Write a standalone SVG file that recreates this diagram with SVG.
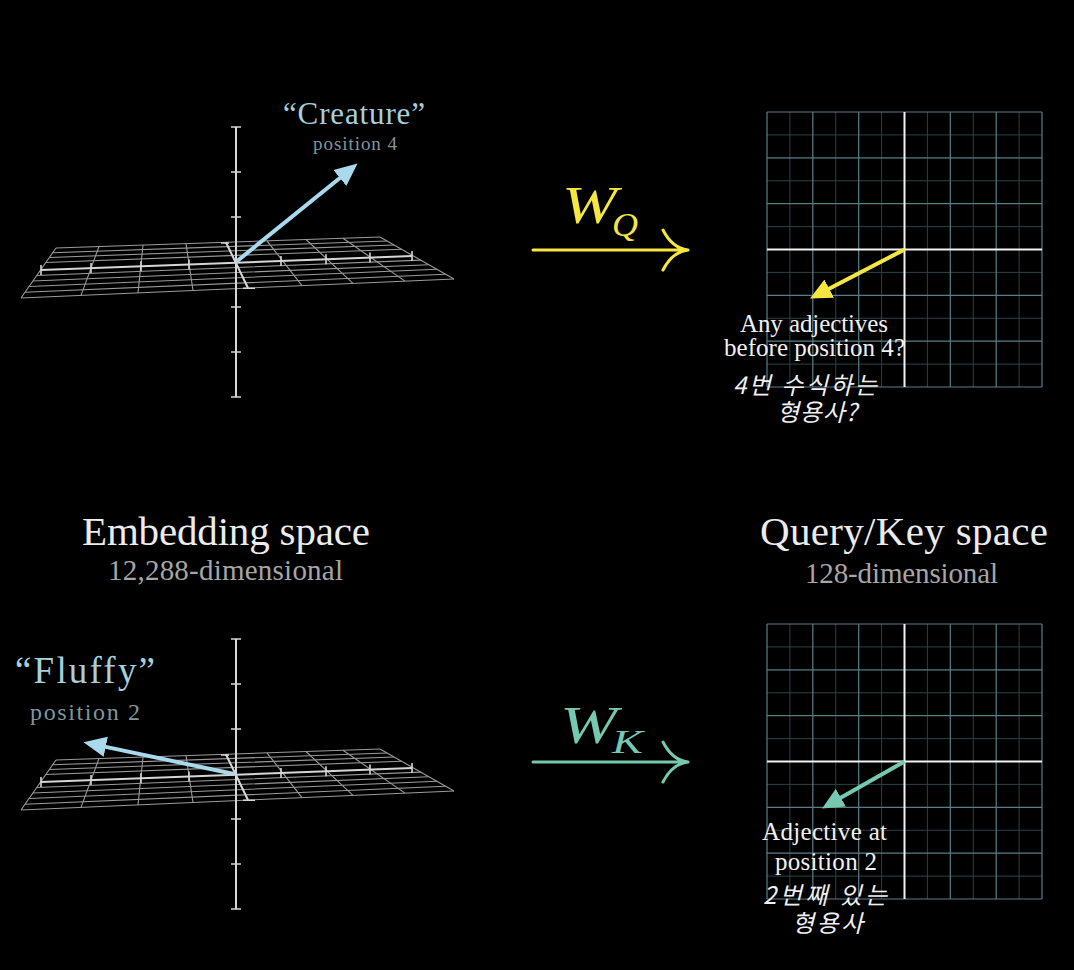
<svg xmlns="http://www.w3.org/2000/svg" xmlns:xlink="http://www.w3.org/1999/xlink" width="1074" height="970" viewBox="0 0 1074 970">
<style>
.grid3d{stroke:#9a9a9a;stroke-width:1.1;fill:none}
.ax3d{stroke:#d6d6d6;stroke-width:2;fill:none}
.tick{stroke:#d6d6d6;stroke-width:1.6;fill:none}
.minor{stroke:#2a4347;stroke-width:1;fill:none}
.major{stroke:#587f87;stroke-width:1.2;fill:none}
.axis2{stroke:#f2f2f2;stroke-width:2;fill:none}
.serif{font-family:"Liberation Serif","Times New Roman",serif}
.kr{font-family:"Noto Sans CJK KR",sans-serif;font-style:italic;font-weight:400}
.title{fill:#ececec;font-size:41px}
.dim{fill:#a6a6a6;font-size:29px}
.lbl{fill:#f0f0f0;font-size:25px}
.krl{fill:#f0f0f0;font-size:24px}
.word{fill:#a7cfdc}
.pos{fill:#80969c}
.vecb{stroke:#a9d9ec;stroke-width:4;fill:none}
.vecy{stroke:#f5e642;stroke-width:4;fill:none}
.vect{stroke:#76c9b0;stroke-width:4;fill:none}
.mapy{stroke:#f5e642;stroke-width:3;fill:none;stroke-linecap:round}
.mapt{stroke:#76c9b0;stroke-width:3;fill:none;stroke-linecap:round}
</style>
<defs>
<marker id="hb" markerUnits="userSpaceOnUse" markerWidth="24" markerHeight="24" viewBox="0 -10 20 20" refX="1" refY="0" orient="auto"><path d="M0,-8.5 L19,0 L0,8.5 z" fill="#a9d9ec"/></marker>
<marker id="hy" markerUnits="userSpaceOnUse" markerWidth="24" markerHeight="24" viewBox="0 -10 20 20" refX="1" refY="0" orient="auto"><path d="M0,-8.5 L18,0 L0,8.5 z" fill="#f5e642"/></marker>
<marker id="ht" markerUnits="userSpaceOnUse" markerWidth="24" markerHeight="24" viewBox="0 -10 20 20" refX="1" refY="0" orient="auto"><path d="M0,-8.5 L18,0 L0,8.5 z" fill="#76c9b0"/></marker>
<g id="axes3d">
<path class="grid3d" d="M56,248 L21,298 M99,246.5 L81,295.4 M143,245 L138,292.9 M186,243.6 L193,290.5 M226,242.2 L248,288 M267,240.8 L302,285.7 M306,239.5 L353,283.4 M343,238.3 L405,281.1 M380,237 L454,279"/>
<path class="grid3d" d="M56,248 L380,237 M52.7,252.8 L387,241 M49.4,257.5 L394.1,245 M45.9,262.5 L401.5,249.2 M36.8,275.5 L420.7,260.1 M32.9,281 L428.8,264.7 M29.1,286.5 L437,269.3 M25,292.3 L445.5,274.2 M21,298 L454,279"/>
<path class="ax3d" d="M41,270 L412,256"/>
<path class="tick" d="M41,265 V275 M91,263.1 V273.1 M141,261.2 V271.2 M189,259.4 V269.4 M281,255.9 V265.9 M326,254.2 V264.2 M370,252.6 V262.6 M412,251 V261"/>
<path class="ax3d" d="M226,242.5 L248,288"/>
<path class="tick" d="M221,243 H229 M243,288.3 H255"/>
<path class="ax3d" d="M236,127 V397"/>
<path class="tick" d="M231,127 H241 M231,172 H241 M231,217 H241 M231,307 H241 M231,352 H241 M231,397 H241"/>
</g>
<g id="qkgrid">
<path class="minor" d="M789.9,112 V387 M835.75,112 V387 M881.6,112 V387 M927.4,112 V387 M973.25,112 V387 M1019.1,112 V387 M767,134.9 H1042 M767,180.75 H1042 M767,226.6 H1042 M767,272.4 H1042 M767,318.25 H1042 M767,364.1 H1042"/>
<path class="major" d="M767,112 V387 M812.8,112 V387 M858.7,112 V387 M950.3,112 V387 M996.2,112 V387 M1042,112 V387 M767,112 H1042 M767,157.8 H1042 M767,203.7 H1042 M767,295.3 H1042 M767,341.2 H1042 M767,387 H1042"/>
<path class="axis2" d="M904.5,112 V387 M767,249.5 H1042"/>
</g>
</defs>
<rect width="1074" height="970" fill="#000"/>

<g id="embedding-top">
<use xlink:href="#axes3d" href="#axes3d"/>
<text class="serif word" x="283" y="124" font-size="31" textLength="142" lengthAdjust="spacing">“Creature”</text>
<text class="serif pos" x="313" y="150" font-size="19" textLength="84" lengthAdjust="spacing">position 4</text>
</g>

<g id="embedding-bottom">
<use xlink:href="#axes3d" href="#axes3d" transform="translate(0,512)"/>
<text class="serif word" x="15" y="683" font-size="37" textLength="140" lengthAdjust="spacing">“Fluffy”</text>
<text class="serif pos" x="30" y="720" font-size="24" textLength="110" lengthAdjust="spacing">position 2</text>
</g>

<g id="embedding-label">
<text class="serif title" x="82" y="545" textLength="288" lengthAdjust="spacing">Embedding space</text>
<text class="serif dim" x="108" y="580" textLength="235" lengthAdjust="spacing">12,288-dimensional</text>
</g>

<g id="qk-label">
<text class="serif title" x="760" y="545" textLength="288" lengthAdjust="spacing">Query/Key space</text>
<text class="serif dim" x="805" y="583" textLength="193" lengthAdjust="spacing">128-dimensional</text>
</g>

<g id="query-space">
<use xlink:href="#qkgrid" href="#qkgrid"/>
<text class="serif lbl" x="740" y="332" textLength="148" lengthAdjust="spacing">Any adjectives</text>
<text class="serif lbl" x="724" y="356" textLength="181" lengthAdjust="spacing">before position 4?</text>
<text class="kr krl" x="733" y="394" textLength="144" lengthAdjust="spacing">4번 수식하는</text>
<text class="kr krl" x="777" y="421" textLength="80" lengthAdjust="spacing">형용사?</text>
</g>

<g id="key-space">
<use xlink:href="#qkgrid" href="#qkgrid" transform="translate(0,512)"/>
<text class="serif lbl" x="762" y="840" textLength="125" lengthAdjust="spacing">Adjective at</text>
<text class="serif lbl" x="775" y="870" textLength="102" lengthAdjust="spacing">position 2</text>
<text class="kr krl" x="763" y="904" textLength="124" lengthAdjust="spacing">2번째 있는</text>
<text class="kr krl" x="792" y="932" textLength="71" lengthAdjust="spacing">형용사</text>
</g>

<g id="wq-label">
<text class="serif" x="562" y="223" font-size="52" font-style="italic" fill="#f5e642" textLength="55" lengthAdjust="spacingAndGlyphs">W</text>
<text class="serif" x="612" y="236" font-size="34" font-style="italic" fill="#f5e642" textLength="26" lengthAdjust="spacingAndGlyphs">Q</text>
</g>
<g id="wk-label">
<text class="serif" x="560" y="743" font-size="52" font-style="italic" fill="#76c9b0" textLength="57" lengthAdjust="spacingAndGlyphs">W</text>
<text class="serif" x="612" y="753" font-size="34" font-style="italic" fill="#76c9b0" textLength="31" lengthAdjust="spacingAndGlyphs">K</text>
</g>

<g id="connectors">
<line class="vecb" x1="236" y1="262" x2="340.8" y2="177.2" marker-end="url(#hb)"/>
<line class="vecb" x1="234" y1="774" x2="104.6" y2="746.6" marker-end="url(#hb)"/>
<line class="vecy" x1="904.5" y1="249.5" x2="828.1" y2="289.2" marker-end="url(#hy)"/>
<line class="vect" x1="904.5" y1="761.5" x2="839.8" y2="798.3" marker-end="url(#ht)"/>
<path class="mapy" d="M533,250 H686 M663,230 Q672,248 688,250 M663,270 Q672,252 688,250"/>
<path class="mapt" d="M533,762 H686 M663,742 Q672,760 688,762 M663,782 Q672,764 688,762"/>
</g>
</svg>
